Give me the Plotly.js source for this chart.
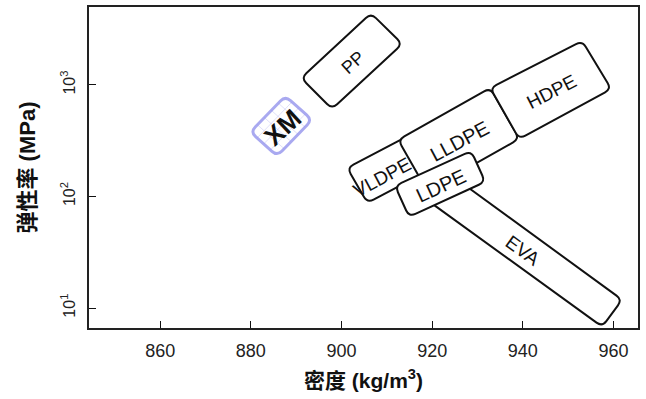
<!DOCTYPE html>
<html><head><meta charset="utf-8">
<script src="https://cdn.plot.ly/plotly-3.0.1.min.js"></script>
<style>body{margin:0;background:#fff}#c{width:646px;height:399px}</style>
</head><body><div id="c"></div>
<script>
// Material regions: four corners each (density kg/m3, modulus MPa)
const xmDensity    = [879.9, 887.6, 893.5, 885.8];
const xmModulus    = [379, 797, 486, 231];
const ppDensity    = [891.1, 906.5, 913.4, 897.9];
const ppModulus    = [1155, 4400, 2330, 610];
const evaDensity   = [922.9, 961.9, 957.5, 918.5];
const evaModulus   = [169.7, 11.87, 6.80, 95.3];
const vldpeDensity = [901.25, 914.7, 919.1, 905.7];
const vldpeModulus = [180.6, 349, 169.7, 87.7];
const lldpeDensity = [912.5, 932.8, 939.2, 918.9];
const lldpeModulus = [321.7, 940, 328, 112.4];
const hdpeDensity  = [932.8, 953.1, 959.5, 939.2];
const hdpeModulus  = [940, 2480, 921, 328];
const ldpeDensity  = [911.8, 928.6, 931.7, 914.9];
const ldpeModulus  = [124.6, 256.3, 135.3, 65.7];

const xTickVals = [860, 880, 900, 920, 940, 960];
const yTickVals = [10, 100, 1000];
const yTickText = ['10<sup>1</sup>', '10<sup>2</sup>', '10<sup>3</sup>'];

const W = 646, H = 399;
const M = {l: 89, r: 8, t: 7, b: 71, pad: 0};
const xRange = [844.3, 965.4];
const yRange = [0.821, 3.699];
const pxX = (W - M.l - M.r) / (xRange[1] - xRange[0]);
const pxY = (H - M.t - M.b) / (yRange[1] - yRange[0]);

const toS = (d, e) => [d * pxX, Math.log10(e) * pxY];
const back = p => [p[0] / pxX, Math.pow(10, p[1] / pxY)];
const fmt = p => { const q = back(p); return q[0].toFixed(4) + ',' + q[1].toFixed(5); };

function roundedPath(ds, es, r) {
  const P = ds.map((d, i) => toS(d, es[i]));
  const n = P.length;
  let s = '';
  for (let i = 0; i < n; i++) {
    const c = P[i], a = P[(i - 1 + n) % n], b = P[(i + 1) % n];
    const la = Math.hypot(a[0] - c[0], a[1] - c[1]);
    const lb = Math.hypot(b[0] - c[0], b[1] - c[1]);
    const A = [c[0] + r * (a[0] - c[0]) / la, c[1] + r * (a[1] - c[1]) / la];
    const B = [c[0] + r * (b[0] - c[0]) / lb, c[1] + r * (b[1] - c[1]) / lb];
    s += (i === 0 ? 'M' : 'L') + fmt(A) + ' Q' + fmt(c) + ' ' + fmt(B) + ' ';
  }
  return s + 'Z';
}

// faint hatch grid inside a box (styling of the XM region)
function gridPath(ds, es, nu, nv) {
  const P = ds.map((d, i) => toS(d, es[i]));
  const lerp = (a, b, t) => [a[0] + (b[0] - a[0]) * t, a[1] + (b[1] - a[1]) * t];
  let s = '';
  for (let k = 1; k < nu; k++) {
    const t = k / nu;
    s += 'M' + fmt(lerp(P[0], P[1], t)) + ' L' + fmt(lerp(P[3], P[2], t)) + ' ';
  }
  for (let k = 1; k < nv; k++) {
    const t = k / nv;
    s += 'M' + fmt(lerp(P[0], P[3], t)) + ' L' + fmt(lerp(P[1], P[2], t)) + ' ';
  }
  return s;
}

const FONT = 'Liberation Sans, Arial, Noto Sans CJK SC, sans-serif';
function box(ds, es, label, angle, size, opts) {
  opts = opts || {};
  const s = {
    type: 'path', xref: 'x', yref: 'y', layer: 'above',
    path: roundedPath(ds, es, opts.r || 7),
    line: {color: opts.lineColor || '#111', width: opts.lineWidth || 2},
    fillcolor: opts.fill || 'white'
  };
  if (label) s.label = {text: label, textangle: angle, textposition: 'middle center',
                        font: {family: FONT, size: size, color: '#111'}};
  return s;
}

const shapes = [
  {type: 'path', xref: 'x', yref: 'y', layer: 'above', path: gridPath(xmDensity, xmModulus, 5, 4),
   line: {color: 'rgba(150,150,235,0.45)', width: 1}},
  box(xmDensity, xmModulus, '<b>XM</b>', -43, 26, {lineColor: 'rgba(140,140,235,0.75)', lineWidth: 3, fill: 'rgba(255,255,255,0.35)'}),
  box(ppDensity, ppModulus, 'PP', -42, 18),
  box(evaDensity, evaModulus, 'EVA', 36, 19),
  box(vldpeDensity, vldpeModulus, null),
  box(lldpeDensity, lldpeModulus, 'LLDPE', -28, 20),
  box(hdpeDensity, hdpeModulus, 'HDPE', -27, 19),
  box(ldpeDensity, ldpeModulus, 'LDPE', -25, 20)
];

// VLDPE label sits low-left in its box (its right part is covered by LLDPE)
const mean = a => a.reduce((s, v) => s + v, 0) / a.length;
const annotations = [{
  x: mean(vldpeDensity), y: mean(vldpeModulus.map(Math.log10)), xref: 'x', yref: 'y',
  text: 'VLDPE', showarrow: false, textangle: -28, xshift: -6, yshift: -8,
  font: {family: FONT, size: 19, color: '#111'}
}];

const layout = {
  width: W, height: H, margin: M,
  paper_bgcolor: 'white', plot_bgcolor: 'white',
  showlegend: false,
  font: {family: FONT, color: '#222'},
  xaxis: {range: xRange, tickvals: xTickVals, ticks: 'inside', ticklen: 7, tickwidth: 1, tickcolor: '#111',
          showline: true, linecolor: '#222', linewidth: 2, mirror: true, showgrid: false, zeroline: false,
          ticklabelstandoff: 5,
          tickfont: {size: 18, color: '#222', family: FONT},
          title: {text: '<b>密度 (kg/m<sup>3</sup>)</b>', font: {size: 21, color: '#111', family: FONT}, standoff: 14}},
  yaxis: {type: 'log', range: yRange, tickvals: yTickVals, ticktext: yTickText, tickangle: -90,
          ticks: 'inside', ticklen: 7, tickwidth: 1, tickcolor: '#111',
          showline: true, linecolor: '#222', linewidth: 2, mirror: true, showgrid: false, zeroline: false,
          ticklabelstandoff: 6,
          tickfont: {size: 16, color: '#222', family: FONT},
          title: {text: '<b>弹性率 (MPa)</b>', font: {size: 22, color: '#111', family: FONT}, standoff: 16}},
  shapes: shapes,
  annotations: annotations
};

Plotly.newPlot('c', [{x: [900], y: [100], mode: 'markers', marker: {opacity: 0}, hoverinfo: 'skip'}], layout, {staticPlot: true});
</script></body></html>
